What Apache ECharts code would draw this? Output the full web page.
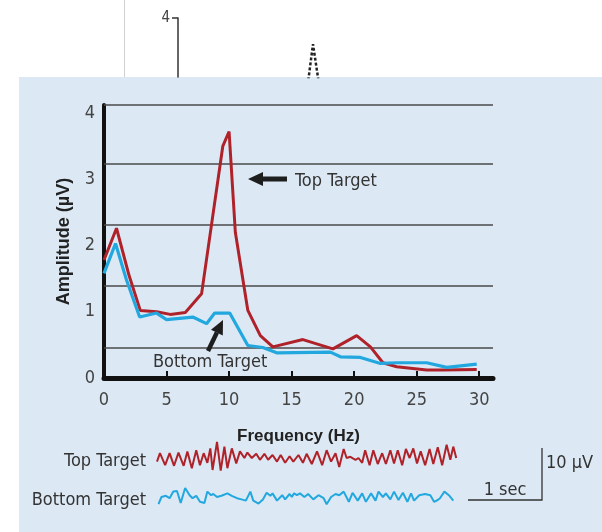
<!DOCTYPE html>
<html>
<head>
<meta charset="utf-8">
<script src="https://cdn.jsdelivr.net/npm/echarts@6/dist/echarts.min.js"></script>
<style>
  html, body { margin: 0; padding: 0; background: #ffffff; }
  #chart { width: 602px; height: 532px; }
</style>
</head>
<body>
<div id="chart"></div>
<script>
// spectrum, top target (Hz, µV)
var topHz  = [0, 1, 2, 2.9, 4.2, 5.3, 6.5, 7.8, 8.7, 9.5, 10, 10.5, 11.5, 12.5, 13.5, 15.9, 18.3, 20.2, 21.3, 22.3, 23.4, 25.8, 27.1, 29.8];
var topAmp = [1.78, 2.26, 1.55, 1.02, 1.0, 0.96, 0.99, 1.27, 2.45, 3.5, 3.72, 2.2, 1.02, 0.64, 0.47, 0.58, 0.44, 0.64, 0.47, 0.23, 0.17, 0.12, 0.12, 0.13];

// spectrum, bottom target
var bottomHz  = [0, 0.92, 1.8, 2.85, 4.2, 5.0, 7.1, 8.2, 8.85, 10.05, 11.5, 12.7, 13.8, 18.1, 18.9, 20.5, 22.1, 23.4, 25.8, 27.4, 29.8];
var bottomAmp = [1.58, 2.03, 1.48, 0.92, 0.98, 0.88, 0.92, 0.82, 0.98, 0.98, 0.49, 0.46, 0.38, 0.39, 0.32, 0.31, 0.22, 0.23, 0.23, 0.16, 0.21];

var xTicks = [0, 5, 10, 15, 20, 25, 30];
var yTicks = [0, 1, 2, 3, 4];
// horizontal rules as printed (they do not sit on the tick values)
var ruleLevels = [0.45, 1.385, 2.31, 3.23, 4.12];

// raw traces (seconds, µV)
var waveTopT = [0, 0.04, 0.11, 0.17, 0.23, 0.29, 0.36, 0.41, 0.47, 0.53, 0.58, 0.63, 0.68, 0.72, 0.75, 0.81, 0.86, 0.91, 0.95, 1.01, 1.07, 1.12, 1.18, 1.22, 1.28, 1.34, 1.39, 1.45, 1.50, 1.56, 1.62, 1.67, 1.73, 1.79, 1.84, 1.91, 1.97, 2.02, 2.09, 2.16, 2.23, 2.29, 2.35, 2.41, 2.46, 2.52, 2.56, 2.61, 2.68, 2.72, 2.77, 2.81, 2.87, 2.92, 2.98, 3.04, 3.09, 3.15, 3.20, 3.25, 3.31, 3.36, 3.41, 3.46, 3.51, 3.56, 3.62, 3.68, 3.73, 3.79, 3.85, 3.91, 3.96, 4.00, 4.04];
var waveTopV = [-0.6, 0.8, -1.2, 0.8, -1.3, 0.9, -1.3, 1.1, -1.7, 1.3, -1.2, 0.8, -0.8, 1.6, -2.0, 2.7, -2.1, 1.9, -1.7, 1.6, -0.9, 1.1, 0.0, 0.9, 0.0, 0.7, -0.3, 0.7, -0.3, 0.5, -0.6, 0.5, -0.8, 0.3, -0.6, 0.5, -0.8, 0.7, -1.0, 1.1, -1.2, 1.3, -0.6, 0.8, -1.5, 1.5, 0.0, 0.2, -0.3, 0.0, -0.8, 1.3, -1.2, 1.3, -1.0, 0.8, -1.0, 1.3, -0.9, 1.3, -1.2, 1.5, 0.0, 1.6, -0.9, 1.1, -1.2, 1.5, -1.0, 1.8, -1.2, 2.2, -0.3, 1.9, 0.0];

var waveBottomT = [0.02, 0.06, 0.12, 0.17, 0.22, 0.27, 0.32, 0.38, 0.44, 0.48, 0.53, 0.58, 0.64, 0.68, 0.73, 0.76, 0.81, 0.87, 0.95, 1.01, 1.08, 1.14, 1.20, 1.26, 1.30, 1.37, 1.43, 1.48, 1.53, 1.56, 1.62, 1.69, 1.73, 1.79, 1.82, 1.85, 1.89, 1.93, 1.99, 2.04, 2.11, 2.18, 2.25, 2.29, 2.35, 2.41, 2.46, 2.52, 2.59, 2.64, 2.71, 2.77, 2.82, 2.89, 2.95, 2.99, 3.05, 3.09, 3.15, 3.20, 3.26, 3.32, 3.38, 3.43, 3.47, 3.54, 3.62, 3.69, 3.74, 3.79, 3.82, 3.88, 3.94, 4.00];
var waveBottomV = [-1.2, 0.0, 0.2, -0.2, 0.9, 1.0, -1.0, 1.5, 0.3, -0.2, 0.2, -0.8, -1.0, 0.9, 0.3, 0.5, 0.0, 0.2, 0.6, 0.2, -0.2, -0.4, -0.6, 0.9, -0.6, -1.1, -0.4, 0.7, 0.2, 0.6, -0.6, 0.3, -0.4, 0.5, 0.0, 0.6, 0.3, 0.6, 0.0, 0.5, -0.4, 0.3, -0.2, -1.2, 0.0, 0.5, 0.3, 0.9, -0.8, 0.7, -0.6, 0.6, -0.8, 0.6, -0.6, 0.9, 0.0, 0.6, -0.4, 0.9, -0.5, 0.7, -0.8, 0.6, -0.6, 0.3, 0.5, 0.3, -0.8, -0.5, -0.2, 0.9, 0.3, -0.6];

// the earlier figure peeking out behind the panel
var backHz  = [9.65, 10, 10.4];
var backAmp = [3.05, 3.6, 3.05];

var RED = '#b0222a';
var BLUE = '#22a8df';
var NARROW = '"Liberation Sans Narrow", "DejaVu Sans Condensed", sans-serif';

function pairs(xs, ys) {
    return xs.map(function (x, i) { return [x, ys[i]]; });
}

var myChart = echarts.init(document.getElementById('chart'), null, { renderer: 'canvas' });

var option = {
    backgroundColor: '#ffffff',
    animation: false,
    grid: [
        { left: 104, right: 109, top: 105, bottom: 154 },
        { left: 178, width: 405, top: 18, bottom: 455 },
        { left: 157, width: 300, top: 434, height: 48 },
        { left: 157, width: 300, top: 473, height: 48 }
    ],
    xAxis: [
        {
            gridIndex: 0,
            type: 'value',
            min: 0,
            max: 31.1,
            name: 'Frequency (Hz)',
            nameLocation: 'middle',
            nameGap: 50,
            nameTextStyle: { fontFamily: '"Liberation Sans", Arial, sans-serif', fontWeight: 'bold', fontSize: 17, color: '#222' },
            axisLine: { lineStyle: { color: '#111', width: 5 } },
            axisTick: { show: true, inside: true, length: 7, customValues: xTicks, lineStyle: { color: '#111', width: 2 } },
            axisLabel: { customValues: xTicks, fontFamily: NARROW, fontSize: 18, color: '#444', margin: 13 },
            splitLine: { show: false }
        },
        { gridIndex: 1, type: 'value', min: 0, max: 30, show: false },
        { gridIndex: 2, type: 'value', min: 0, max: 4.05, show: false },
        { gridIndex: 3, type: 'value', min: 0, max: 4.05, show: false }
    ],
    yAxis: [
        {
            gridIndex: 0,
            type: 'value',
            min: 0,
            max: 4.12,
            name: 'Amplitude (µV)',
            nameLocation: 'middle',
            nameGap: 31,
            nameRotate: 90,
            nameTextStyle: { fontFamily: '"Liberation Sans", Arial, sans-serif', fontWeight: 'bold', fontSize: 18, color: '#222' },
            axisLine: { show: true, lineStyle: { color: '#111', width: 4 } },
            axisTick: { show: false },
            axisLabel: { customValues: yTicks, fontFamily: NARROW, fontSize: 18, color: '#444', margin: 9 },
            splitLine: { show: false }
        },
        {
            gridIndex: 1,
            type: 'value',
            min: 3.1,
            max: 4,
            axisLine: { show: true, lineStyle: { color: '#333', width: 1.5 } },
            axisTick: { show: true, length: 6, customValues: [4], lineStyle: { color: '#333', width: 1.5 } },
            axisLabel: { customValues: [4], fontFamily: NARROW, fontSize: 15, color: '#444', margin: 8 },
            splitLine: { show: false }
        },
        { gridIndex: 2, type: 'value', min: -4, max: 4, show: false },
        { gridIndex: 3, type: 'value', min: -4, max: 4, show: false }
    ],
    series: [
        {
            name: 'rules',
            type: 'line',
            xAxisIndex: 0,
            yAxisIndex: 0,
            data: [],
            markLine: {
                silent: true,
                z: 1,
                symbol: ['none', 'none'],
                label: { show: false },
                lineStyle: { color: '#4a4a4a', width: 1.5, type: 'solid' },
                data: ruleLevels.map(function (v) { return { yAxis: v }; })
            }
        },
        {
            name: 'Top Target',
            type: 'line',
            xAxisIndex: 0,
            yAxisIndex: 0,
            z: 3,
            symbol: 'none',
            lineStyle: { color: RED, width: 3 },
            data: pairs(topHz, topAmp)
        },
        {
            name: 'Bottom Target',
            type: 'line',
            xAxisIndex: 0,
            yAxisIndex: 0,
            z: 4,
            symbol: 'none',
            lineStyle: { color: BLUE, width: 3.2 },
            data: pairs(bottomHz, bottomAmp)
        },
        {
            name: 'back',
            type: 'line',
            xAxisIndex: 1,
            yAxisIndex: 1,
            clip: true,
            symbol: 'none',
            lineStyle: { color: '#222', width: 2.5, type: [3, 2] },
            data: pairs(backHz, backAmp)
        },
        {
            name: 'Top trace',
            type: 'line',
            xAxisIndex: 2,
            yAxisIndex: 2,
            symbol: 'none',
            lineStyle: { color: RED, width: 2 },
            data: pairs(waveTopT, waveTopV)
        },
        {
            name: 'Bottom trace',
            type: 'line',
            xAxisIndex: 3,
            yAxisIndex: 3,
            symbol: 'none',
            lineStyle: { color: BLUE, width: 2 },
            data: pairs(waveBottomT, waveBottomV)
        }
    ],
    graphic: [
        { type: 'rect', z: -10, silent: true, shape: { x: 19, y: 77, width: 583, height: 455 }, style: { fill: '#dce9f4' } },
        { type: 'line', z: -10, silent: true, shape: { x1: 124.5, y1: 0, x2: 124.5, y2: 77 }, style: { stroke: '#d0d0d0', lineWidth: 1 } },

        // Top Target callout
        { type: 'polygon', z: 10, shape: { points: [[248, 179], [263, 172], [263, 186]] }, style: { fill: '#1e1e1e' } },
        { type: 'rect', z: 10, shape: { x: 261, y: 176.5, width: 26, height: 5 }, style: { fill: '#1e1e1e' } },
        { type: 'text', z: 10, style: { text: 'Top Target', x: 295, y: 181, font: '18px ' + NARROW, fill: '#333', align: 'left', verticalAlign: 'middle' } },

        // Bottom Target callout
        { type: 'polygon', z: 10, shape: { points: [[223, 320], [222.8, 335.4], [211, 329.8]] }, style: { fill: '#1e1e1e' } },
        { type: 'line', z: 10, shape: { x1: 216.9, y1: 332.6, x2: 208, y2: 351 }, style: { stroke: '#1e1e1e', lineWidth: 4.5 } },
        { type: 'text', z: 10, style: { text: 'Bottom Target', x: 153, y: 362, font: '18px ' + NARROW, fill: '#333', align: 'left', verticalAlign: 'middle' } },

        // trace labels
        { type: 'text', z: 10, style: { text: 'Top Target', x: 146, y: 461, font: '18px ' + NARROW, fill: '#333', align: 'right', verticalAlign: 'middle' } },
        { type: 'text', z: 10, style: { text: 'Bottom Target', x: 146, y: 500, font: '18px ' + NARROW, fill: '#333', align: 'right', verticalAlign: 'middle' } },

        // scale bar
        { type: 'polyline', z: 10, shape: { points: [[468, 500], [542, 500], [542, 448]] }, style: { stroke: '#333', lineWidth: 1.3, fill: null } },
        { type: 'text', z: 10, style: { text: '1 sec', x: 505, y: 490, font: '18px ' + NARROW, fill: '#333', align: 'center', verticalAlign: 'middle' } },
        { type: 'text', z: 10, style: { text: '10 µV', x: 546, y: 463, font: '18px ' + NARROW, fill: '#333', align: 'left', verticalAlign: 'middle' } }
    ]
};

myChart.setOption(option);
</script>
</body>
</html>
